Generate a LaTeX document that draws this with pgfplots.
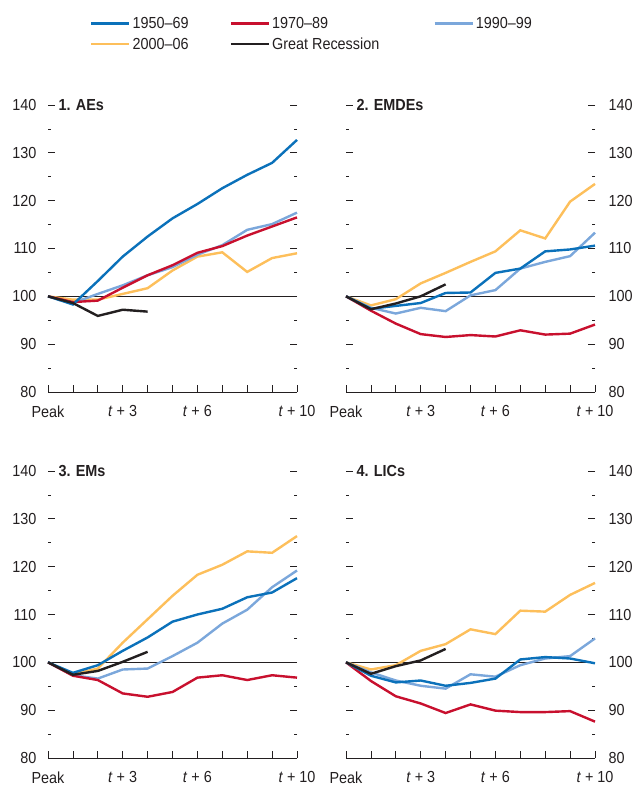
\documentclass[border=0pt]{standalone}
\usepackage{fontspec}
\setmainfont{Liberation Sans}[FakeStretch=0.9]
\usepackage{pgfplots}
\pgfplotsset{compat=1.18}
\definecolor{cA}{HTML}{0B71BA}
\definecolor{cB}{HTML}{C8102E}
\definecolor{cC}{HTML}{7BA7DB}
\definecolor{cD}{HTML}{FDBF5B}
\definecolor{cE}{HTML}{231F20}
\newcommand{\lab}{\fontsize{16bp}{19bp}\selectfont}
\pgfplotsset{
 panel/.style={
  scale only axis, width=249bp, height=287bp,
  xmin=0, xmax=10, ymin=80, ymax=140,
  axis x line*=bottom,
  y axis line style={draw=none},
  x axis line style={cE, line width=0.8bp},
  ytick={80,90,...,140}, minor ytick={85,95,...,135},
  ytick pos=both,
  tick align=inside,
  major tick length=7bp, minor tick length=3bp,
  xtick={0,...,10},
  xticklabels={Peak,,,\textit{t} + 3,,,\textit{t} + 6,,,,\textit{t} + 10},
  tick label style={font=\lab, text=cE},
  xticklabel style={yshift=-10bp},
  /pgf/number format/assume math mode=true,
  tick style={cE, line width=0.8bp},
  clip=false,
 },
 leftp/.style={panel, yticklabel pos=left, yticklabel style={xshift=-8bp}},
 rightp/.style={panel, yticklabel pos=right, yticklabel style={xshift=10bp}},
 ser/.style={line width=2.4bp, no markers, forget plot},
}
\newcommand{\refline}{\addplot[cE, line width=0.8bp, forget plot] coordinates {(0,100) (10,100)};}
\newcommand{\ptitle}[1]{\node[anchor=west, font=\bfseries\lab, text=cE, xshift=7bp] at (rel axis cs:0,1) {#1};}
\begin{document}
\begin{tikzpicture}[x=1bp,y=1bp]
\useasboundingbox (0,0) rectangle (637,791);
% Panel 1: AEs
\begin{axis}[leftp, at={(48bp,399bp)}, anchor=south west,
  legend columns=3,
  legend style={at={(axis description cs:0.157,1.321)}, anchor=north west, draw=none, fill=none,
    font=\lab, text=cE, row sep=4bp,
    /tikz/column 2/.style={column sep=39bp},
    /tikz/column 4/.style={column sep=52bp}},
  legend cell align=left,
  legend image code/.code={\draw[#1, line width=2.4bp] (0bp,0bp) -- (38bp,0bp);}]
\addlegendimage{cA}\addlegendentry{1950–69}
\addlegendimage{cB}\addlegendentry{1970–89}
\addlegendimage{cC}\addlegendentry{1990–99}
\addlegendimage{cD}\addlegendentry{2000–06}
\addlegendimage{cE}\addlegendentry{Great Recession}
\refline
\addplot[ser, cD] coordinates {(0,100)(1,99.3)(2,99.3)(3,100.5)(4,101.7)(5,105.4)(6,108.3)(7,109.2)(8,105.1)(9,108)(10,109)};
\addplot[ser, cC] coordinates {(0,100)(1,98.6)(2,100.5)(3,102.3)(4,104.4)(5,106.1)(6,108.7)(7,110.7)(8,113.9)(9,115.1)(10,117.5)};
\addplot[ser, cB] coordinates {(0,100)(1,98.8)(2,99.1)(3,101.8)(4,104.4)(5,106.5)(6,109.1)(7,110.5)(8,112.7)(9,114.6)(10,116.5)};
\addplot[ser, cA] coordinates {(0,100)(1,98.3)(2,103.2)(3,108.3)(4,112.5)(5,116.3)(6,119.3)(7,122.6)(8,125.4)(9,127.9)(10,132.7)};
\addplot[ser, cE] coordinates {(0,100)(1,98.6)(2,95.9)(3,97.2)(4,96.8)};
\ptitle{1. AEs}
\end{axis}
% Panel 2: EMDEs
\begin{axis}[rightp, at={(346bp,399bp)}, anchor=south west]
\refline
\addplot[ser, cD] coordinates {(0,100)(1,98.1)(2,99.4)(3,102.7)(4,104.9)(5,107.2)(6,109.4)(7,113.8)(8,112.1)(9,119.8)(10,123.5)};
\addplot[ser, cC] coordinates {(0,100)(1,97.6)(2,96.4)(3,97.6)(4,96.9)(5,100.2)(6,101.3)(7,105.8)(8,107.2)(9,108.4)(10,113.3)};
\addplot[ser, cB] coordinates {(0,100)(1,97)(2,94.3)(3,92.1)(4,91.5)(5,91.9)(6,91.6)(7,92.9)(8,92)(9,92.2)(10,94.1)};
\addplot[ser, cA] coordinates {(0,100)(1,97.4)(2,98)(3,98.6)(4,100.7)(5,100.8)(6,104.9)(7,105.8)(8,109.4)(9,109.8)(10,110.6)};
\addplot[ser, cE] coordinates {(0,100)(1,97.3)(2,98.5)(3,100)(4,102.5)};
\ptitle{2. EMDEs}
\end{axis}
% Panel 3: EMs
\begin{axis}[leftp, at={(48bp,33bp)}, anchor=south west]
\refline
\addplot[ser, cD] coordinates {(0,100)(1,97.5)(2,98.7)(3,104.1)(4,109)(5,113.9)(6,118.3)(7,120.4)(8,123.2)(9,122.9)(10,126.4)};
\addplot[ser, cC] coordinates {(0,100)(1,97.3)(2,96.6)(3,98.5)(4,98.7)(5,101.3)(6,104.1)(7,108.1)(8,111)(9,115.7)(10,119.2)};
\addplot[ser, cB] coordinates {(0,100)(1,97.2)(2,96.3)(3,93.5)(4,92.8)(5,93.8)(6,96.8)(7,97.3)(8,96.3)(9,97.3)(10,96.8)};
\addplot[ser, cA] coordinates {(0,100)(1,97.8)(2,99.4)(3,102.4)(4,105.2)(5,108.5)(6,110)(7,111.2)(8,113.6)(9,114.6)(10,117.6)};
\addplot[ser, cE] coordinates {(0,100)(1,97.4)(2,98.2)(3,100.1)(4,102.2)};
\ptitle{3. EMs}
\end{axis}
% Panel 4: LICs
\begin{axis}[rightp, at={(346bp,33bp)}, anchor=south west]
\refline
\addplot[ser, cD] coordinates {(0,100)(1,98.5)(2,99.4)(3,102.4)(4,103.8)(5,106.9)(6,105.9)(7,110.8)(8,110.6)(9,114.1)(10,116.6)};
\addplot[ser, cC] coordinates {(0,100)(1,97.9)(2,96.2)(3,95.1)(4,94.5)(5,97.5)(6,97)(7,99.4)(8,100.8)(9,101.3)(10,105)};
\addplot[ser, cB] coordinates {(0,100)(1,96.1)(2,92.9)(3,91.4)(4,89.4)(5,91.2)(6,89.9)(7,89.6)(8,89.6)(9,89.8)(10,87.6)};
\addplot[ser, cA] coordinates {(0,100)(1,97.2)(2,95.8)(3,96.2)(4,95.1)(5,95.7)(6,96.6)(7,100.6)(8,101.1)(9,100.8)(10,99.8)};
\addplot[ser, cE] coordinates {(0,100)(1,97.6)(2,99.2)(3,100.4)(4,102.8)};
\ptitle{4. LICs}
\end{axis}
\end{tikzpicture}
\end{document}
